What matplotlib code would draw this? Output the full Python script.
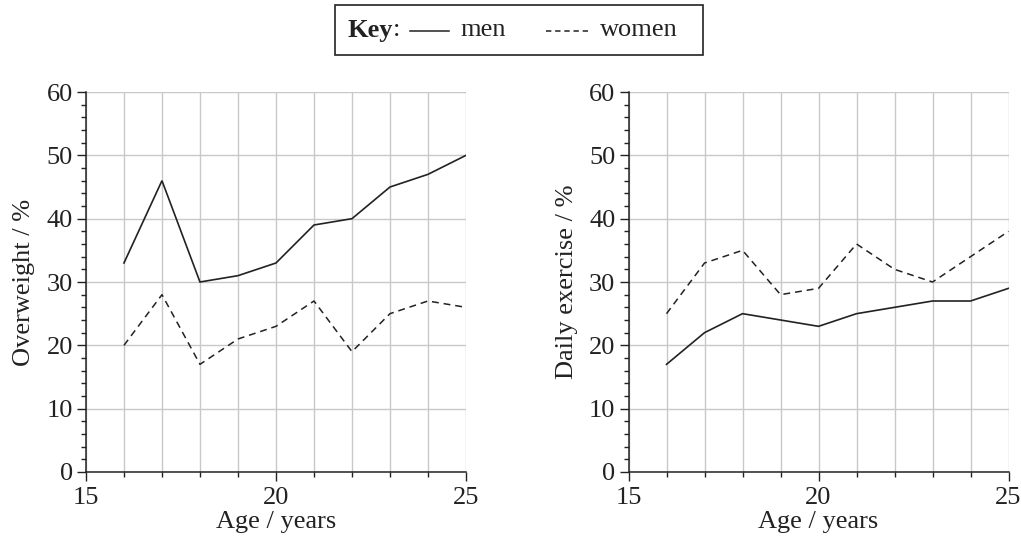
import matplotlib.pyplot as plt
from matplotlib.lines import Line2D
from matplotlib.patches import Rectangle
from matplotlib.ticker import MultipleLocator

plt.rcParams['font.family'] = ['Liberation Serif', 'DejaVu Serif']

ages = [16, 17, 18, 19, 20, 21, 22, 23, 24, 25]
overweight_men = [33, 46, 30, 31, 33, 39, 40, 45, 47, 50]
overweight_women = [20, 28, 17, 21, 23, 27, 19, 25, 27, 26]
exercise_men = [17, 22, 25, 24, 23, 25, 26, 27, 27, 29]
exercise_women = [25, 33, 35, 28, 29, 36, 32, 30, 34, 38]

ink = '#222222'
fs = 19

fig = plt.figure(figsize=(10.21, 5.48), dpi=100)
ax1 = fig.add_axes([0.0842, 0.1387, 0.3722, 0.6934])
ax2 = fig.add_axes([0.6156, 0.1387, 0.3722, 0.6934])


def style_axes(ax, ylabel):
    ax.set_xlim(15, 25)
    ax.set_ylim(0, 60)
    ax.xaxis.set_major_locator(MultipleLocator(5))
    ax.xaxis.set_minor_locator(MultipleLocator(1))
    ax.yaxis.set_major_locator(MultipleLocator(10))
    ax.yaxis.set_minor_locator(MultipleLocator(2))
    ax.grid(True, which='major', axis='y', color='#c8c8c8', lw=1.0)
    ax.grid(True, which='both', axis='x', color='#c8c8c8', lw=1.0)
    ax.set_axisbelow(True)
    for side in ['top', 'right']:
        ax.spines[side].set_visible(False)
    for side in ['left', 'bottom']:
        ax.spines[side].set_color(ink)
        ax.spines[side].set_linewidth(1.1)
    ax.tick_params(which='major', length=6.5, width=1.0, color=ink,
                   labelsize=fs, labelcolor=ink)
    ax.tick_params(which='minor', length=3.5, width=1.0, color=ink)
    ax.tick_params(axis='x', which='major', pad=4)
    ax.tick_params(axis='y', which='major', pad=3)
    ax.set_xlabel('Age / years', fontsize=fs, color=ink, labelpad=2)
    ax.set_ylabel(ylabel, fontsize=fs, color=ink, labelpad=8)


for ax, men, women, ylabel in [
        (ax1, overweight_men, overweight_women, 'Overweight / %'),
        (ax2, exercise_men, exercise_women, 'Daily exercise / %')]:
    ax.plot(ages, men, color=ink, lw=1.2, solid_joinstyle='miter')
    ax.plot(ages, women, color=ink, lw=1.1, linestyle=(0, (4.5, 3.2)))
    style_axes(ax, ylabel)

# key box at the top
fig.add_artist(Rectangle((0.328, 0.8996), 0.3605, 0.0914, transform=fig.transFigure,
                         fill=False, edgecolor=ink, lw=1.2))
key = fig.text(0.3405, 0.945, 'Key', fontsize=fs, fontweight='bold', color=ink, va='center')
plt.annotate(':', xy=(1, 0.5), xycoords=key, xytext=(0, 0), textcoords='offset points',
             fontsize=fs, color=ink, va='center', ha='left', annotation_clip=False)
fig.add_artist(Line2D([0.402, 0.440], [0.943, 0.943], transform=fig.transFigure,
                      color=ink, lw=1.1))
fig.text(0.451, 0.945, 'men', fontsize=fs, color=ink, va='center')
fig.add_artist(Line2D([0.535, 0.577], [0.943, 0.943], transform=fig.transFigure,
                      color=ink, lw=1.1, linestyle=(0, (3.5, 2.5))))
fig.text(0.588, 0.945, 'women', fontsize=fs, color=ink, va='center')

fig.savefig('out.png', dpi=100)
